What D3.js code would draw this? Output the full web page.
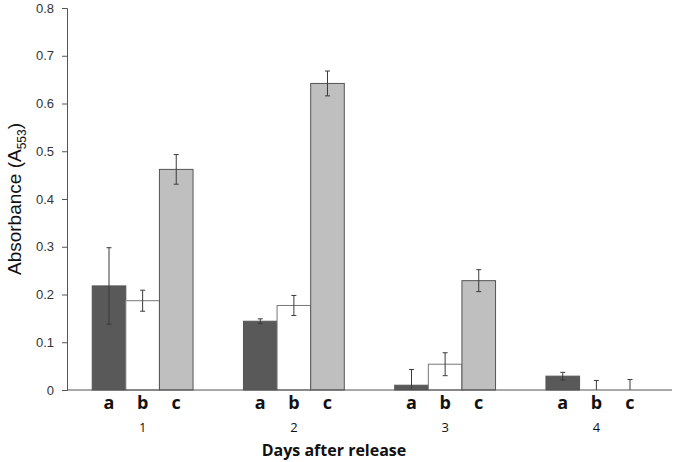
<!DOCTYPE html>
<html lang="en">
<head>
  <meta charset="UTF-8" />
  <title>Absorbance</title>
  <script src="https://d3js.org/d3.v7.min.js"></script>
  <style>
    body { margin: 0; background: #fff; }
    .tick text { font-family: "Liberation Sans", Arial, sans-serif; font-size: 13px; fill: #333; }
    .domain, .tick line { stroke: #555; }
  </style>
</head>
<body>
  <svg id="chart" width="675" height="462"></svg>

  <script>
    const days = ["1", "2", "3", "4"];
    const treatments = ["a", "b", "c"];
    const meansA = [0.218, 0.144, 0.010, 0.029];
    const meansB = [0.187, 0.177, 0.054, 0.0];
    const meansC = [0.462, 0.642, 0.229, 0.0];
    const errA = [0.080, 0.005, 0.033, 0.008];
    const errB = [0.022, 0.021, 0.024, 0.020];
    const errC = [0.031, 0.026, 0.023, 0.022];
    const yTicks = [0, 0.1, 0.2, 0.3, 0.4, 0.5, 0.6, 0.7, 0.8];

    const fills = { a: "#595959", b: "#ffffff", c: "#bfbfbf" };

    const svg = d3.select("#chart");
    const margin = { top: 8, right: 3, bottom: 72, left: 67 };
    const w = +svg.attr("width") - margin.left - margin.right;
    const h = +svg.attr("height") - margin.top - margin.bottom;
    const g = svg.append("g").attr("transform", `translate(${margin.left},${margin.top})`);

    const rows = [];
    days.forEach((d, i) => {
      rows.push({ day: d, t: "a", v: meansA[i], e: errA[i] });
      rows.push({ day: d, t: "b", v: meansB[i], e: errB[i] });
      rows.push({ day: d, t: "c", v: meansC[i], e: errC[i] });
    });

    const x0 = d3.scaleBand().domain(days).range([0, w]);
    const x1 = d3.scaleBand().domain(treatments)
      .range([x0.bandwidth() / 6, x0.bandwidth() * 5 / 6]);
    const y = d3.scaleLinear().domain([0, 0.8]).range([h, 0]);

    // y axis
    g.append("g")
      .call(d3.axisLeft(y).tickValues(yTicks).tickSize(5).tickPadding(8)
        .tickFormat(d => d === 0 ? "0" : d3.format(".1f")(d)));

    // bars
    g.selectAll("rect.bar")
      .data(rows)
      .join("rect")
      .attr("class", "bar")
      .attr("x", d => x0(d.day) + x1(d.t))
      .attr("y", d => y(d.v))
      .attr("width", x1.bandwidth())
      .attr("height", d => h - y(d.v))
      .attr("fill", d => fills[d.t])
      .attr("stroke", d => d.t === "b" ? "#777" : "#555")
      .attr("stroke-width", 1);

    // error bars
    const eb = g.selectAll("g.err")
      .data(rows)
      .join("g")
      .attr("class", "err")
      .attr("stroke", "#3a3a3a")
      .attr("stroke-width", 1);
    const cx = d => x0(d.day) + x1(d.t) + x1.bandwidth() / 2;
    eb.append("line")
      .attr("x1", cx).attr("x2", cx)
      .attr("y1", d => y(d.v + d.e))
      .attr("y2", d => y(Math.max(0, d.v - d.e)));
    eb.append("line")
      .attr("x1", d => cx(d) - 2.5).attr("x2", d => cx(d) + 2.5)
      .attr("y1", d => y(d.v + d.e)).attr("y2", d => y(d.v + d.e));
    eb.filter(d => d.v - d.e > 0).append("line")
      .attr("x1", d => cx(d) - 2.5).attr("x2", d => cx(d) + 2.5)
      .attr("y1", d => y(d.v - d.e)).attr("y2", d => y(d.v - d.e));

    // x baseline
    g.append("line")
      .attr("x1", 0).attr("x2", w)
      .attr("y1", h).attr("y2", h)
      .attr("stroke", "#555");

    // treatment letters
    g.selectAll("text.letter")
      .data(rows)
      .join("text")
      .attr("class", "letter")
      .attr("x", cx)
      .attr("y", h + 19)
      .attr("text-anchor", "middle")
      .style("font-family", "'Open Sans', sans-serif")
      .style("font-weight", "bold")
      .style("font-size", "18px")
      .style("fill", "#111")
      .text(d => d.t);

    // day labels
    g.selectAll("text.day")
      .data(days)
      .join("text")
      .attr("class", "day")
      .attr("x", d => x0(d) + x0.bandwidth() / 2)
      .attr("y", h + 42)
      .attr("text-anchor", "middle")
      .style("font-family", "'Open Sans', sans-serif")
      .style("font-size", "13px")
      .style("fill", "#111")
      .text(d => d);

    // x title
    svg.append("text")
      .attr("x", 334)
      .attr("y", 456)
      .attr("text-anchor", "middle")
      .style("font-family", "'Open Sans', sans-serif")
      .style("font-weight", "bold")
      .style("font-size", "16px")
      .style("fill", "#111")
      .text("Days after release");

    // y title
    const yt = svg.append("text")
      .attr("transform", "translate(21,199) rotate(-90)")
      .attr("text-anchor", "middle")
      .style("font-family", "'Liberation Sans', Arial, sans-serif")
      .style("font-size", "19px")
      .style("fill", "#111");
    yt.append("tspan").text("Absorbance (A");
    yt.append("tspan").attr("dy", 5).style("font-size", "12px").text("553");
    yt.append("tspan").attr("dy", -5).text(")");
  </script>
</body>
</html>
